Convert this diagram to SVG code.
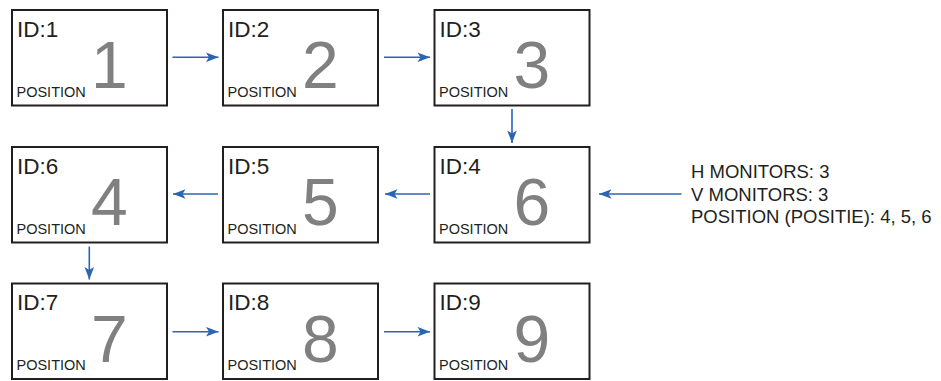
<svg xmlns="http://www.w3.org/2000/svg" width="941" height="381" viewBox="0 0 941 381">
<style>
.box{fill:#fff;stroke:#231f20;stroke-width:2}
.id{font-family:"Liberation Sans",Arial,sans-serif;font-size:22.5px;fill:#231f20}
.pos{font-family:"Liberation Sans",Arial,sans-serif;font-size:14.5px;fill:#231f20}
.num{font-family:"Liberation Sans",Arial,sans-serif;font-size:66px;fill:#808080}
.info{font-family:"Liberation Sans",Arial,sans-serif;font-size:18.5px;fill:#231f20}
.arr{stroke:#2b64b1;stroke-width:1.6;fill:none;marker-end:url(#ah)}
</style>
<defs>
<marker id="ah" markerUnits="userSpaceOnUse" markerWidth="14" markerHeight="10" viewBox="-13 -5 14 10" refX="0" refY="0" orient="auto">
<path d="M0,0 L-12.5,-4.8 L-9.5,0 L-12.5,4.8 Z" fill="#2b64b1"/>
</marker>
</defs>
<rect width="941" height="381" fill="#fff"/>
<g id="n1"><rect class="box" x="12" y="10" width="155" height="95.5"/><text class="id" x="17" y="36.5">ID:1</text><text class="pos" x="16.5" y="96.5">POSITION</text><text class="num" x="91" y="88">1</text></g>
<g id="n2"><rect class="box" x="223" y="10" width="155" height="95.5"/><text class="id" x="228" y="36.5">ID:2</text><text class="pos" x="227.5" y="96.5">POSITION</text><text class="num" x="302" y="88">2</text></g>
<g id="n3"><rect class="box" x="434.5" y="10" width="155" height="95.5"/><text class="id" x="439.5" y="36.5">ID:3</text><text class="pos" x="439" y="96.5">POSITION</text><text class="num" x="513.5" y="88">3</text></g>
<g id="n4"><rect class="box" x="12" y="147" width="155" height="95.5"/><text class="id" x="17" y="173.5">ID:6</text><text class="pos" x="16.5" y="233.5">POSITION</text><text class="num" x="91" y="225">4</text></g>
<g id="n5"><rect class="box" x="223" y="147" width="155" height="95.5"/><text class="id" x="228" y="173.5">ID:5</text><text class="pos" x="227.5" y="233.5">POSITION</text><text class="num" x="302" y="225">5</text></g>
<g id="n6"><rect class="box" x="434.5" y="147" width="155" height="95.5"/><text class="id" x="439.5" y="173.5">ID:4</text><text class="pos" x="439" y="233.5">POSITION</text><text class="num" x="513.5" y="225">6</text></g>
<g id="n7"><rect class="box" x="12" y="283.5" width="155" height="95.5"/><text class="id" x="17" y="310">ID:7</text><text class="pos" x="16.5" y="370">POSITION</text><text class="num" x="91" y="361.5">7</text></g>
<g id="n8"><rect class="box" x="223" y="283.5" width="155" height="95.5"/><text class="id" x="228" y="310">ID:8</text><text class="pos" x="227.5" y="370">POSITION</text><text class="num" x="302" y="361.5">8</text></g>
<g id="n9"><rect class="box" x="434.5" y="283.5" width="155" height="95.5"/><text class="id" x="439.5" y="310">ID:9</text><text class="pos" x="439" y="370">POSITION</text><text class="num" x="513.5" y="361.5">9</text></g>
<g id="info"><text class="info" x="691" y="178.3">H MONITORS: 3</text><text class="info" x="691" y="200.8">V MONITORS: 3</text><text class="info" x="691" y="222.8">POSITION (POSITIE): 4, 5, 6</text></g>
<g id="connectors">
<line class="arr" x1="172.5" y1="57.3" x2="218.5" y2="57.3"/>
<line class="arr" x1="384" y1="57.3" x2="430" y2="57.3"/>
<line class="arr" x1="512" y1="109" x2="512" y2="143"/>
<line class="arr" x1="681.5" y1="194" x2="599" y2="194"/>
<line class="arr" x1="430" y1="194" x2="385" y2="194"/>
<line class="arr" x1="218" y1="194" x2="173" y2="194"/>
<line class="arr" x1="89.3" y1="246.5" x2="89.3" y2="279.5"/>
<line class="arr" x1="172.5" y1="331.7" x2="218.5" y2="331.7"/>
<line class="arr" x1="384" y1="331.7" x2="430" y2="331.7"/>
</g>
</svg>
